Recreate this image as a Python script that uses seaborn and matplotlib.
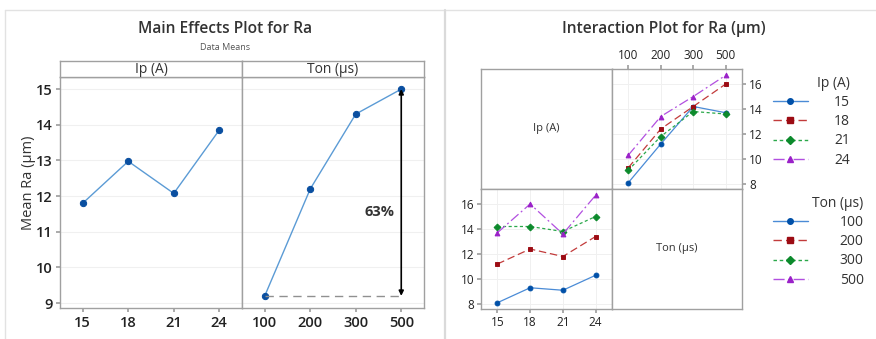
import numpy as np
import pandas as pd
import matplotlib
matplotlib.use("Agg")
import matplotlib.pyplot as plt
import seaborn as sns
from matplotlib.lines import Line2D

# Ra (um), one list per Ip level, ordered by Ton
ip_levels = [15, 18, 21, 24]
ton_levels = [100, 200, 300, 500]
ra_ip15 = [8.1, 11.2, 14.2, 13.7]
ra_ip18 = [9.3, 12.4, 14.2, 16.0]
ra_ip21 = [9.1, 11.8, 13.8, 13.6]
ra_ip24 = [10.3, 13.4, 15.0, 16.7]

rows = []
for ip, vals in zip(ip_levels, [ra_ip15, ra_ip18, ra_ip21, ra_ip24]):
    for ton, v in zip(ton_levels, vals):
        rows.append({"Ip": ip, "Ton": ton, "Ra": v})
df = pd.DataFrame(rows)

sns.set_theme(style="white")
plt.rcParams["font.family"] = ["Open Sans", "DejaVu Sans"]

W, H = 876, 339
fig = plt.figure(figsize=(W / 100, H / 100), dpi=100)


def px_axes(x0, y0, x1, y1):
    # place axes by pixel box (top-left origin)
    return fig.add_axes([x0 / W, 1 - y1 / H, (x1 - x0) / W, (y1 - y0) / H])


def style_spines(ax, color="#a0a0a0"):
    for s in ax.spines.values():
        s.set_visible(True)
        s.set_color(color)
        s.set_linewidth(1)


txt = "#333333"

# frame lines of the two panels
fig.add_artist(Line2D([5 / W, 1], [1 - 10 / H] * 2, transform=fig.transFigure, color="#e2e2e2", lw=1))
fig.add_artist(Line2D([5 / W] * 2, [0, 1 - 10 / H], transform=fig.transFigure, color="#e2e2e2", lw=1))
fig.add_artist(Line2D([445 / W] * 2, [0, 1 - 10 / H], transform=fig.transFigure, color="#dadada", lw=1.6))

# ---------------- Main effects plot ----------------
me_line = "#5b9bd5"
me_mark = "#0a4fa0"

ax_ip = px_axes(60, 77, 242, 308)
ax_ton = px_axes(242, 77, 424, 308)
for ax, col in [(ax_ip, "Ip"), (ax_ton, "Ton")]:
    sns.pointplot(data=df, x=col, y="Ra", estimator="mean", errorbar=None,
                  color=me_line, markers="o", markersize=4.5, linewidth=1, ax=ax)
    for ln in ax.lines:
        ln.set_markerfacecolor(me_mark)
        ln.set_markeredgecolor(me_mark)
    ax.set_xlim(-0.5, 3.5)
    ax.set_ylim(8.86, 15.34)
    ax.set_yticks(range(9, 16))
    ax.yaxis.grid(True, color="#f0f0f0", lw=0.8)
    ax.set_axisbelow(True)
    ax.set_xlabel("")
    ax.set_ylabel("")
    style_spines(ax)
    ax.tick_params(axis="x", bottom=True, length=3, color="#a0a0a0", labelsize=10.5,
                   labelcolor="#222222", pad=3)
    for t in ax.get_xticklabels():
        t.set_fontweight("semibold")
ax_ip.tick_params(axis="y", left=True, length=3, color="#a0a0a0", labelsize=10.5,
                  labelcolor="#222222", pad=2)
for t in ax_ip.get_yticklabels():
    t.set_fontweight("semibold")
ax_ton.tick_params(axis="y", left=False, labelleft=False)

for (x0, x1), lab in [((60, 242), "Ip (A)"), ((242, 424), "Ton (μs)")]:
    sa = px_axes(x0, 61, x1, 77)
    sa.set_xticks([])
    sa.set_yticks([])
    style_spines(sa)
    sa.text(0.5, 0.45, lab, ha="center", va="center", fontsize=10, color=txt,
            transform=sa.transAxes)

ton_means = df.groupby("Ton")["Ra"].mean()
lo, hi = ton_means.min(), ton_means.max()
ax_ton.plot([0, 3], [lo, lo], ls=(0, (6, 4)), color="#909090", lw=1)
ax_ton.annotate("", xy=(3, lo), xytext=(3, hi),
                arrowprops=dict(arrowstyle="<|-|>", color="black", lw=1.2, mutation_scale=7,
                                shrinkA=0, shrinkB=0))
ax_ton.text(2.53, 11.55, f"{(hi - lo) / lo * 100:.0f}%", ha="center", va="center",
            fontsize=10.5, fontweight="bold", color=txt)

fig.text(225 / W, 1 - 29 / H, "Main Effects Plot for Ra", ha="center", va="center",
         fontsize=11.2, fontweight="semibold", color=txt)
fig.text(225 / W, 1 - 47 / H, "Data Means", ha="center", va="center", fontsize=6.5, color="#555555")
fig.text(28 / W, 1 - 183 / H, "Mean Ra (μm)", ha="center", va="center", rotation=90,
         fontsize=10.5, color=txt)

# ---------------- Interaction plot ----------------
line_cols = ["#4a8bd6", "#c23b3b", "#2aa84a", "#b24fe0"]
mark_cols = ["#0050a8", "#9c0c14", "#0c8a2c", "#9a20c8"]
markers = ["o", "s", "D", "^"]
lstyles = ["-", (0, (6, 3)), (0, (2.5, 2)), (0, (8, 2.5, 1.5, 2.5))]

ax_tl = px_axes(481, 69, 612, 189)
ax_tr = px_axes(612, 69, 742, 189)
ax_bl = px_axes(481, 189, 612, 309)
ax_br = px_axes(612, 189, 742, 309)


def interaction(ax, x, hue):
    sns.pointplot(data=df, x=x, y="Ra", hue=hue, errorbar=None, palette=line_cols,
                  markers=markers, markersize=3.5, linewidth=0.9, legend=False, ax=ax)
    for ln, ls, mc in zip(ax.lines, lstyles, mark_cols):
        ln.set_linestyle(ls)
        ln.set_markerfacecolor(mc)
        ln.set_markeredgecolor(mc)
    ax.set_xlim(-0.5, 3.5)
    ax.set_ylim(7.6, 17.2)
    ax.set_yticks([8, 10, 12, 14, 16])
    ax.grid(True, color="#f0f0f0", lw=0.7)
    ax.set_axisbelow(True)
    ax.set_xlabel("")
    ax.set_ylabel("")
    style_spines(ax)


interaction(ax_tr, "Ton", "Ip")
ax_tr.xaxis.tick_top()
ax_tr.yaxis.tick_right()
ax_tr.tick_params(top=True, right=True, bottom=False, left=False, length=3, color="#a0a0a0",
                  labelsize=8.5, labelcolor="#222222", pad=2)

interaction(ax_bl, "Ip", "Ton")
ax_bl.tick_params(bottom=True, left=True, length=3, color="#a0a0a0",
                  labelsize=8.5, labelcolor="#222222", pad=2)

for ax, lab in [(ax_tl, "Ip (A)"), (ax_br, "Ton (μs)")]:
    ax.set_xticks([])
    ax.set_yticks([])
    style_spines(ax)
    ax.text(0.5, 0.5, lab, ha="center", va="center", fontsize=8, color=txt, transform=ax.transAxes)

fig.text(664 / W, 1 - 29 / H, "Interaction Plot for Ra (μm)", ha="center", va="center",
         fontsize=11.2, fontweight="semibold", color=txt)


def handles():
    return [Line2D([], [], color=lc, ls=ls, lw=1, marker=m, markersize=4,
                   markerfacecolor=mc, markeredgecolor=mc)
            for lc, ls, m, mc in zip(line_cols, lstyles, markers, mark_cols)]


for title, labels, top, gap in [("Ip (A)", ip_levels, 76, 1.9), ("Ton (μs)", ton_levels, 196, 2.3)]:
    leg = fig.legend(handles(), [str(v) for v in labels], title=title, loc="upper left",
                     bbox_to_anchor=(773 / W, 1 - top / H), frameon=False, fontsize=10,
                     title_fontsize=10, handlelength=2.5, handletextpad=gap, labelspacing=0.3,
                     borderpad=0, borderaxespad=0, alignment="right")
    for t in leg.get_texts():
        t.set_color(txt)
    leg.get_title().set_color(txt)

fig.savefig("out.png", dpi=100, facecolor="white")
